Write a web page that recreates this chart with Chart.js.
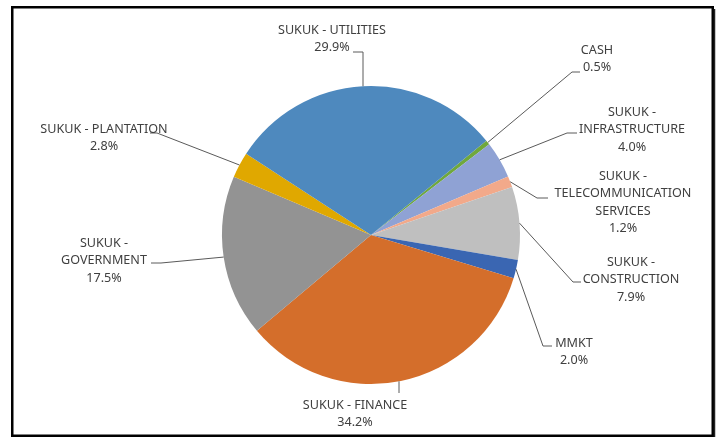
<!DOCTYPE html>
<html>
<head>
<meta charset="utf-8">
<script src="https://cdn.jsdelivr.net/npm/chart.js@4"></script>
<style>
  html, body { margin: 0; padding: 0; background: #fff; }
  #wrap { position: relative; width: 719px; height: 437px; }
</style>
</head>
<body>
<div id="wrap"><canvas id="c"></canvas></div>
<script>
// ---- data (clockwise order starting after rotation) ----
const categories = [
  ["CASH"],
  ["SUKUK -", "INFRASTRUCTURE"],
  ["SUKUK -", "TELECOMMUNICATION", "SERVICES"],
  ["SUKUK -", "CONSTRUCTION"],
  ["MMKT"],
  ["SUKUK - FINANCE"],
  ["SUKUK -", "GOVERNMENT"],
  ["SUKUK - PLANTATION"],
  ["SUKUK - UTILITIES"]
];
const values = [0.5, 4.0, 1.2, 7.9, 2.0, 34.2, 17.5, 2.8, 29.9];
const colors = ["#70a83c", "#8fa2d4", "#f2a98a", "#bfbfbf", "#3a66b2", "#d46e2b", "#939393", "#e0a800", "#4e89be"];

// ---- label layout (text centre x, first line y, leader elbow, leader end) ----
const labelLayout = [
  { x: 597, y: 50,  elbow: [572, 72],  end: [580, 72] },
  { x: 632, y: 112, elbow: [567, 133], end: [577, 133] },
  { x: 623, y: 176, elbow: [537, 198], end: [548, 198] },
  { x: 631, y: 262, elbow: [573, 282], end: [581, 282] },
  { x: 574, y: 343, elbow: [543, 346], end: [552, 346] },
  { x: 355, y: 405, elbow: [399, 393], end: [399, 393], fromX: 399 },
  { x: 104, y: 243, elbow: [161, 263], end: [151, 263] },
  { x: 104, y: 129, elbow: [157, 133], end: [150, 133] },
  { x: 332, y: 30,  elbow: [363, 52],  end: [353, 52], fromX: 363 }
];

const labelPlugin = {
  id: 'pieLabels',
  beforeDraw(chart) {
    const ctx = chart.ctx;
    ctx.save();
    ctx.fillStyle = '#ffffff';
    ctx.fillRect(0, 0, chart.width, chart.height);
    ctx.restore();
  },
  afterDraw(chart) {
    const ctx = chart.ctx;
    const meta = chart.getDatasetMeta(0);
    ctx.save();
    // leader lines
    ctx.strokeStyle = '#5a5a5a';
    ctx.lineWidth = 1;
    meta.data.forEach((arc, i) => {
      const L = labelLayout[i];
      const mid = (arc.startAngle + arc.endAngle) / 2;
      let sx = arc.x + Math.cos(mid) * arc.outerRadius;
      let sy = arc.y + Math.sin(mid) * arc.outerRadius;
      if (L.fromX !== undefined) {
        sx = L.fromX;
        const dx = sx - arc.x;
        const dyAbs = Math.sqrt(Math.max(0, arc.outerRadius * arc.outerRadius - dx * dx));
        sy = arc.y + (Math.sin(mid) >= 0 ? dyAbs : -dyAbs);
      }
      ctx.beginPath();
      ctx.moveTo(sx, sy);
      ctx.lineTo(L.elbow[0], L.elbow[1]);
      ctx.lineTo(L.end[0], L.end[1]);
      ctx.stroke();
    });
    // text
    ctx.fillStyle = '#404040';
    ctx.font = '12.6px "Noto Sans", sans-serif';
    ctx.textAlign = 'center';
    ctx.textBaseline = 'middle';
    const lh = 17.5;
    meta.data.forEach((arc, i) => {
      const L = labelLayout[i];
      const lines = categories[i].concat([values[i].toFixed(1) + '%']);
      lines.forEach((t, k) => ctx.fillText(t, L.x, L.y + k * lh));
    });
    // frame
    ctx.strokeStyle = '#000000';
    ctx.lineWidth = 2.5;
    ctx.strokeRect(12.25, 7.25, 700.5, 428.5);
    ctx.lineWidth = 1.5;
    ctx.strokeStyle = '#222';
    ctx.beginPath();
    ctx.moveTo(714.5, 9);
    ctx.lineTo(714.5, 437);
    ctx.stroke();
    ctx.restore();
  }
};

new Chart(document.getElementById('c'), {
  type: 'pie',
  data: {
    labels: categories.map(c => c.join(' ')),
    datasets: [{
      data: values,
      backgroundColor: colors,
      borderWidth: 0
    }]
  },
  options: {
    responsive: true,
    maintainAspectRatio: false,
    animation: false,
    rotation: 50.7,
    layout: { padding: { top: 86, bottom: 53, left: 222, right: 199 } },
    plugins: { legend: { display: false }, tooltip: { enabled: false } }
  },
  plugins: [labelPlugin]
});
</script>
</body>
</html>
